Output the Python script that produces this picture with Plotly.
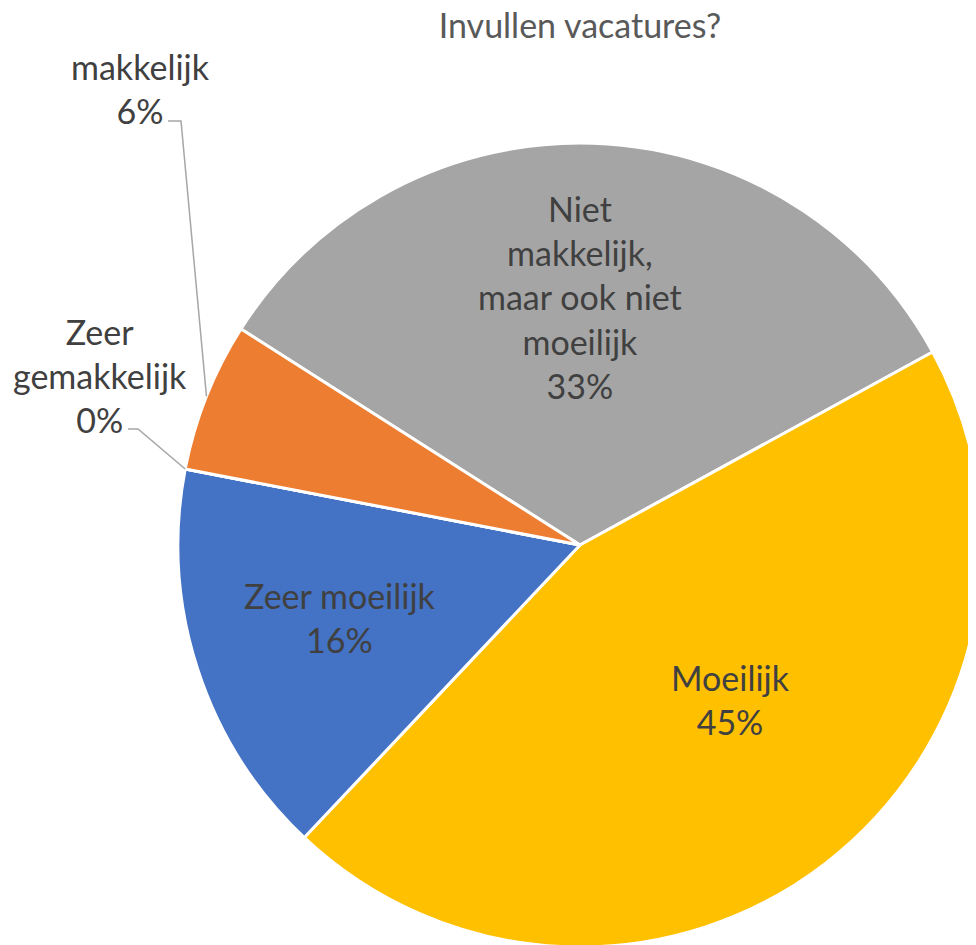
import numpy as np
import plotly.graph_objects as go

# data (percentages), in clockwise order from the gray slice
labels = ['Niet makkelijk, maar ook niet moeilijk', 'Moeilijk', 'Zeer moeilijk',
          'Zeer gemakkelijk', 'makkelijk']
values = [33, 45, 16, 0, 6]
label_lines = [['Niet', 'makkelijk,', 'maar ook niet', 'moeilijk'],
               ['Moeilijk'], ['Zeer moeilijk'],
               ['Zeer', 'gemakkelijk'], ['makkelijk']]
colors = ['#A5A5A5', '#FFC000', '#4472C4', '#5B9BD5', '#ED7D31']

W, H = 976, 945
OFF = 8  # page body margin: screen position = figure position + 8
ROTATION = -57.5
FONT = 'Lato'

# pie placement in screen pixels (center 580,545, radius 402)
dom_x = [178, 982]
dom_y = [143, 947]
CX = (dom_x[0] + dom_x[1]) / 2
CY = (dom_y[0] + dom_y[1]) / 2
R = min(dom_x[1] - dom_x[0], dom_y[1] - dom_y[0]) / 2


def px(x):
    return (x - OFF) / W


def py(y):
    return 1 - (y - OFF) / H


def rim(angle_deg):
    a = np.radians(angle_deg)
    return CX + R * np.sin(a), CY - R * np.cos(a)


# start / mid angles of each slice (clockwise from 12 o'clock)
total = sum(values)
starts = ROTATION + 360 * np.concatenate([[0], np.cumsum(values)[:-1]]) / total
mids = starts + 360 * np.array(values) / total / 2

fig = go.Figure(go.Pie(
    labels=labels, values=values, sort=False, direction='clockwise',
    rotation=ROTATION, textinfo='none', hoverinfo='label+percent',
    marker=dict(colors=colors, line=dict(color='white', width=3)),
    domain=dict(x=[px(dom_x[0]), px(dom_x[1])], y=[py(dom_y[1]), py(dom_y[0])]),
    showlegend=False,
))

# label anchor positions (screen pixels), Excel-style placement
label_pos = [(580, 297), (730, 699), (340, 617), (100, 375), (140, 88)]
for lines, v, (lx, ly) in zip(label_lines, values, label_pos):
    fig.add_annotation(
        x=px(lx), y=py(ly), xref='paper', yref='paper',
        text='<br>'.join(lines + [f'{v}%']), showarrow=False,
        xanchor='center', yanchor='middle', align='center',
        font=dict(family=FONT, size=34, color='#404040'),
    )

# leader lines for the outside labels
leader_start = {3: (128, 429, 138), 4: (168, 121, 181)}
for i, (x0, y0, x1) in leader_start.items():
    ex, ey = rim(mids[i])
    fig.add_shape(
        type='path', xref='paper', yref='paper',
        path=f'M {px(x0)} {py(y0)} L {px(x1)} {py(y0)} L {px(ex)} {py(ey)}',
        line=dict(color='#A6A6A6', width=1.5),
    )

fig.update_layout(
    width=W, height=H,
    margin=dict(l=0, r=0, t=0, b=0),
    paper_bgcolor='white',
    title=dict(text='Invullen vacatures?', x=px(580), y=py(26),
               xanchor='center', yanchor='middle',
               font=dict(family=FONT, size=34, color='#595959')),
)

fig.write_html("out.html")
